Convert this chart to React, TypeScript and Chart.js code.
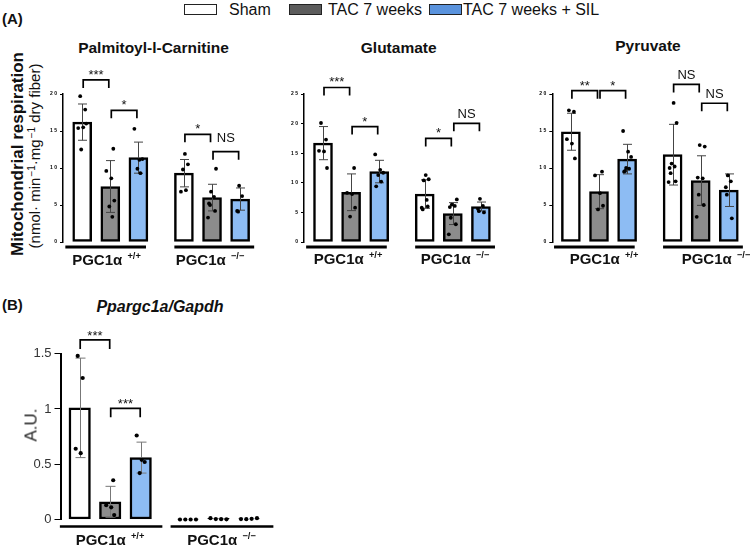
import React, { useEffect, useRef } from 'react';
import { Chart, registerables } from 'chart.js';
Chart.register(...registerables);

const FONT = '"Liberation Sans", Arial, Helvetica, sans-serif';
Chart.defaults.font.family = FONT;

// ---------- data ----------
const CONDITIONS = ['Sham', 'TAC 7 weeks', 'TAC 7 weeks + SIL'];
const GENOTYPES = ['+/+', '−/−'];

const PALM_MEANS = [16.2, 7.5, 11.4, 9.3, 6.0, 5.8];
const PALM_SD = [2.45, 3.5, 2.1, 1.85, 1.8, 1.5];
const PALM_DOTS = [
  [19.7, 17.9, 15.4, 15.5, 16.0, 12.5],
  [12.6, 9.6, 8.6, 5.6, 4.8, 3.4],
  [15.3, 11.1, 11.2, 9.9, 9.3],
  [11.9, 10.5, 9.8, 7.0, 6.8],
  [9.9, 6.8, 6.1, 5.2, 5.0, 4.2, 3.3],
  [7.6, 6.2, 4.2, 4.1],
];
const PALM_TICKS = ['0', '5', '1 0', '1 5', '2 0'];

const GLUT_MEANS = [16.7, 8.4, 11.9, 8.1, 4.8, 6.0];
const GLUT_SD = [2.8, 3.1, 1.9, 2.4, 1.85, 0.75];
const GLUT_DOTS = [
  [20.1, 17.3, 15.4, 15.3, 12.5],
  [12.5, 8.3, 8.1, 5.8, 4.3],
  [14.8, 12.2, 11.7, 11.3, 10.2, 9.4],
  [11.3, 10.6, 10.4, 7.1, 5.8, 5.5, 6.0],
  [7.2, 6.3, 6.1, 5.9, 4.1, 3.0, 1.3],
  [7.3, 6.1, 5.6, 5.2, 5.0],
];
const GLUT_TICKS = ['0', '5', '1 0', '1 5', '2 0', '2 5'];

const PYR_MEANS = [14.9, 6.8, 11.2, 11.8, 8.3, 7.0];
const PYR_SD = [2.5, 2.3, 2.0, 4.1, 3.35, 2.2];
const PYR_DOTS = [
  [17.8, 17.6, 13.9, 13.3, 11.3],
  [9.5, 9.0, 6.6, 4.9, 4.4],
  [15.0, 12.2, 11.5, 10.0, 9.9, 9.5, 9.6],
  [18.8, 16.1, 10.6, 10.2, 10.0, 9.3, 8.2, 8.1],
  [12.9, 13.1, 8.6, 8.7, 6.4, 5.0, 3.4],
  [9.0, 8.2, 7.4, 6.4, 3.2],
];
const PYR_TICKS = ['0', '5', '1 0', '1 5', '2 0'];

const PPAR_MEANS = [1.01, 0.16, 0.56, 0.003, 0.01, 0.006];
const PPAR_SD = [0.45, 0.14, 0.14, 0, 0, 0];
const PPAR_DOTS = [
  [1.48, 1.28, 0.64, 0.6],
  [0.355, 0.13, 0.11, 0.04],
  [0.76, 0.54, 0.52, 0.42],
  [0, 0, 0, 0],
  [0.012, 0.004, 0.003, 0.002],
  [0.004, 0.003, 0.006, 0.012],
];
const PPAR_TICKS = ['0', '0.5', '1', '1.5'];

type Bracket = { a: number; b: number; y: number; label: string; dy?: number };
const PALM_BRACKETS: Bracket[] = [
  { a: 0, b: 1, y: 21.9, label: '***' },
  { a: 1, b: 2, y: 17.8, label: '*' },
  { a: 3, b: 4, y: 14.55, label: '*' },
  { a: 4, b: 5, y: 12.2, label: 'NS', dy: -5 },
];
const GLUT_BRACKETS: Bracket[] = [
  { a: 0, b: 1, y: 26.1, label: '***' },
  { a: 1, b: 2, y: 19.5, label: '*' },
  { a: 3, b: 4, y: 17.5, label: '*' },
  { a: 4, b: 5, y: 20.05, label: 'NS' },
];
const PYR_BRACKETS: Bracket[] = [
  { a: 0, b: 1, y: 20.45, label: '**' },
  { a: 1, b: 2, y: 20.45, label: '*' },
  { a: 3, b: 4, y: 21.3, label: 'NS' },
  { a: 4, b: 5, y: 18.75, label: 'NS' },
];
const PPAR_BRACKETS: Bracket[] = [
  { a: 0, b: 1, y: 1.625, label: '***' },
  { a: 1, b: 2, y: 1.006, label: '***' },
];

// ---------- styles ----------
const BAR_COLORS = ['#ffffff', '#8c8c8c', '#8dbcf3'];
const LEGEND_COLORS = ['#ffffff', '#5c5c5c', '#5a93dd'];

type Panel = {
  left: number; top: number; width: number; height: number;
  axisX: number; firstCenter: number; pitch: number; groupGap: number;
  topY: number; zeroY: number; yMax: number; yStep: number;
  ticks: string[]; tickFont: any; tickColor: string; tickLen: number; tickPad: number; axisW: number; yW: number;
  means: number[]; sd: number[]; dots: number[][]; brackets: Bracket[];
  underlines: [number, number][]; underlineGap: number; underlineW: number;
  barThickness: number; errColor: string; capW: number; dotR: number;
  legLen: number; inA: number; inB: number; starFont: number; starGap: number; nsGap: number;
  spreadKO?: number;
};

const JITTER = [-2, 3, -4, 1, 4, -1, 2, -3];

function positions(p: Panel) {
  const out: number[] = [];
  GENOTYPES.forEach((_, g) => CONDITIONS.forEach((_, c) => out.push(g * p.groupGap + c)));
  return out;
}

function makeOverlay(p: Panel) {
  return {
    id: 'overlay',
    afterDatasetsDraw(chart: any) {
      const ctx = chart.ctx as CanvasRenderingContext2D;
      const xs = chart.scales.x;
      const ys = chart.scales.y;
      const X = (v: number) => xs.getPixelForValue(v);
      const Y = (v: number) => ys.getPixelForValue(v);
      const pos = positions(p);
      ctx.save();
      // error bars
      ctx.strokeStyle = p.errColor;
      ctx.lineWidth = 1;
      pos.forEach((ps, i) => {
        const sd = p.sd[i];
        if (!(sd > 0)) return;
        const cx = Math.round(X(ps)) + 0.5;
        const y1 = Y(p.means[i] + sd);
        const y0 = Y(Math.max(0, p.means[i] - sd));
        ctx.beginPath();
        ctx.moveTo(cx, y1); ctx.lineTo(cx, y0);
        ctx.moveTo(cx - p.capW / 2, y1); ctx.lineTo(cx + p.capW / 2, y1);
        ctx.moveTo(cx - p.capW / 2, y0); ctx.lineTo(cx + p.capW / 2, y0);
        ctx.stroke();
      });
      // dots
      ctx.fillStyle = '#000';
      pos.forEach((ps, i) => {
        const vals = p.dots[i];
        const cx = X(ps);
        vals.forEach((v, k) => {
          let off = JITTER[(k + i) % JITTER.length];
          if (p.spreadKO && i >= 3) off = -p.spreadKO + (2 * p.spreadKO * k) / Math.max(1, vals.length - 1);
          ctx.beginPath();
          ctx.arc(cx + off, Y(v), p.dotR, 0, Math.PI * 2);
          ctx.fill();
        });
      });
      // brackets
      ctx.strokeStyle = '#000';
      ctx.lineWidth = 1.7;
      ctx.fillStyle = '#111';
      ctx.textAlign = 'center';
      ctx.textBaseline = 'alphabetic';
      p.brackets.forEach((b) => {
        const x1 = X(pos[b.a]) + p.inA;
        const x2 = X(pos[b.b]) - p.inB;
        const y = Y(b.y);
        ctx.beginPath();
        ctx.moveTo(x1, y + p.legLen); ctx.lineTo(x1, y); ctx.lineTo(x2, y); ctx.lineTo(x2, y + p.legLen);
        ctx.stroke();
        const isNS = b.label === 'NS';
        ctx.font = `${isNS ? 13 : p.starFont}px ${FONT}`;
        const gap = (isNS ? p.nsGap : p.starGap) - (b.dy || 0);
        ctx.fillText(b.label, (x1 + x2) / 2, y - gap);
      });
      // group underlines
      ctx.lineWidth = p.underlineW;
      ctx.strokeStyle = '#000';
      p.underlines.forEach(([a, b]) => {
        const y = Y(0) + p.underlineGap;
        ctx.beginPath(); ctx.moveTo(X(a), y); ctx.lineTo(X(b), y); ctx.stroke();
      });
      ctx.restore();
    },
  };
}

function BarPanel({ p }: { p: Panel }) {
  const ref = useRef<HTMLCanvasElement>(null);
  useEffect(() => {
    if (!ref.current) return;
    const pos = positions(p);
    const padLeft = p.axisX - p.left - p.yW;
    const padRight = 2;
    const chartRight = p.left + p.width - padRight;
    const xMin = -(p.firstCenter - p.axisX) / p.pitch;
    const xMax = xMin + (chartRight - p.axisX) / p.pitch;
    const colors = pos.map((_, i) => BAR_COLORS[i % 3]);
    const chart = new Chart(ref.current, {
      type: 'bar',
      data: {
        datasets: [{
          data: pos.map((x, i) => ({ x, y: p.means[i] })),
          backgroundColor: colors,
          borderColor: '#000',
          borderWidth: 2.5,
          borderSkipped: false,
          barThickness: p.barThickness,
        } as any],
      },
      options: {
        responsive: false,
        animation: false,
        events: [],
        layout: { padding: { left: padLeft, right: padRight, top: p.topY - p.top, bottom: p.top + p.height - p.zeroY } },
        plugins: { legend: { display: false }, tooltip: { enabled: false }, title: { display: false } },
        scales: {
          x: { type: 'linear', min: xMin, max: xMax, display: false, offset: false },
          y: {
            min: 0, max: p.yMax,
            afterFit: (s: any) => { s.width = p.yW; },
            ticks: {
              stepSize: p.yStep,
              font: p.tickFont,
              color: p.tickColor,
              padding: p.tickPad,
              callback: (_v: any, i: number) => p.ticks[i],
            },
            grid: { display: true, drawOnChartArea: false, drawTicks: true, tickLength: p.tickLen, color: '#000', lineWidth: 1 },
            border: { display: true, color: '#000', width: p.axisW },
          },
        } as any,
      },
      plugins: [makeOverlay(p)],
    });
    return () => chart.destroy();
  }, [p]);
  return (
    <canvas
      ref={ref}
      width={p.width}
      height={p.height}
      style={{ position: 'absolute', left: p.left, top: p.top, width: p.width, height: p.height }}
    />
  );
}

const A_COMMON = {
  pitch: 28.1, groupGap: 3.62, topY: 94, zeroY: 242, yStep: 5,
  tickFont: { size: 5, weight: 'bold' }, tickColor: '#000', tickLen: 3, tickPad: 3, axisW: 1.5, yW: 25,
  underlines: [[-0.6, 2.27], [3.28, 6.12]] as [number, number][], underlineGap: 5, underlineW: 3,
  barThickness: 19, errColor: '#444', capW: 9, dotR: 1.9, legLen: 8, inA: 1, inB: 1.5,
  starFont: 13, starGap: 1, nsGap: 5, top: 55, height: 200,
};

const P1: Panel = { ...A_COMMON, left: 28, width: 235, axisX: 63, firstCenter: 82.2, yMax: 20, ticks: PALM_TICKS,
  means: PALM_MEANS, sd: PALM_SD, dots: PALM_DOTS, brackets: PALM_BRACKETS };
const P2: Panel = { ...A_COMMON, left: 269, width: 235, axisX: 304, firstCenter: 323, yMax: 25, ticks: GLUT_TICKS,
  means: GLUT_MEANS, sd: GLUT_SD, dots: GLUT_DOTS, brackets: GLUT_BRACKETS };
const P3: Panel = { ...A_COMMON, left: 517, width: 233, axisX: 552.3, firstCenter: 570.9, yMax: 20, ticks: PYR_TICKS,
  means: PYR_MEANS, sd: PYR_SD, dots: PYR_DOTS, brackets: PYR_BRACKETS };
const PB: Panel = {
  left: 20, top: 318, width: 265, height: 222, axisX: 60.5, firstCenter: 79.7, pitch: 30.5, groupGap: 3.55,
  topY: 353.7, zeroY: 519.5, yMax: 1.5, yStep: 0.5, ticks: PPAR_TICKS,
  tickFont: { size: 13 }, tickColor: '#333', tickLen: 6, tickPad: 3, axisW: 2, yW: 32,
  means: PPAR_MEANS, sd: PPAR_SD, dots: PPAR_DOTS, brackets: PPAR_BRACKETS,
  underlines: [[-0.65, 2.71], [2.98, 6.35]], underlineGap: 7, underlineW: 2.5,
  barThickness: 21.5, errColor: '#777', capW: 10, dotR: 2.1, legLen: 9, inA: 0.5, inB: 0.5,
  starFont: 13, starGap: 0, nsGap: 5, spreadKO: 8,
};

function T({ x, y, children, style, align = 'center', rotate = false }: any) {
  const tr = rotate
    ? 'translate(-50%,-50%) rotate(-90deg)'
    : align === 'center' ? 'translate(-50%,-50%)' : 'translate(0,-50%)';
  return (
    <div style={{ position: 'absolute', left: x, top: y, transform: tr, whiteSpace: 'nowrap', lineHeight: 1, fontFamily: FONT, color: '#111', ...style }}>
      {children}
    </div>
  );
}

const Sup = ({ children, size = 9, top = -5 }: any) => (
  <span style={{ fontSize: size, position: 'relative', top, marginLeft: 1 }}>{children}</span>
);

function GroupLabel({ x, y, sup, size = 15 }: any) {
  return (
    <T x={x} y={y} style={{ fontSize: size, fontWeight: 'bold' }}>
      PGC1α <Sup size={size * 0.62} top={-size * 0.38}>{sup}</Sup>
    </T>
  );
}

export default function App() {
  const legendX = [184, 288.5, 428.5];
  const legendTextX = [229, 328, 463];
  return (
    <div style={{ position: 'absolute', left: 0, top: 0, width: 750, height: 549, overflow: 'hidden', background: '#fff', fontFamily: FONT }}>
      {CONDITIONS.map((c, i) => (
        <React.Fragment key={c}>
          <div style={{ position: 'absolute', left: legendX[i], top: 4, width: 33, height: 11, boxSizing: 'border-box', border: '1.5px solid #222', background: LEGEND_COLORS[i] }} />
          <T x={legendTextX[i]} y={10} align="left" style={{ fontSize: 16 }}>{c}</T>
        </React.Fragment>
      ))}
      <T x={2} y={18} align="left" style={{ fontSize: 15, fontWeight: 'bold' }}>(A)</T>
      <T x={17} y={154} rotate style={{ fontSize: 17, fontWeight: 'bold' }}>Mitochondrial respiration</T>
      <T x={34} y={156} rotate style={{ fontSize: 15 }}>
        (nmol· min<Sup size={10}>−1</Sup>·mg<Sup size={10}>−1</Sup> dry fiber)
      </T>
      <T x={153.5} y={48} style={{ fontSize: 15.5, fontWeight: 'bold' }}>Palmitoyl-l-Carnitine</T>
      <T x={398.7} y={48} style={{ fontSize: 15.5, fontWeight: 'bold' }}>Glutamate</T>
      <T x={648} y={45.5} style={{ fontSize: 15.5, fontWeight: 'bold' }}>Pyruvate</T>

      <BarPanel p={P1} />
      <BarPanel p={P2} />
      <BarPanel p={P3} />
      <BarPanel p={PB} />

      <GroupLabel x={106.5} y={260} sup={GENOTYPES[0]} />
      <GroupLabel x={210} y={260} sup={GENOTYPES[1]} />
      <GroupLabel x={348} y={259} sup={GENOTYPES[0]} />
      <GroupLabel x={455} y={259} sup={GENOTYPES[1]} />
      <GroupLabel x={604} y={259} sup={GENOTYPES[0]} />
      <GroupLabel x={716} y={259} sup={GENOTYPES[1]} />

      <T x={2} y={304} align="left" style={{ fontSize: 15, fontWeight: 'bold' }}>(B)</T>
      <T x={160} y={307} style={{ fontSize: 16, fontWeight: 'bold', fontStyle: 'italic' }}>Ppargc1a/Gapdh</T>
      <T x={31} y={425} rotate style={{ fontSize: 17, color: '#222' }}>A.U.</T>
      <GroupLabel x={110} y={540} sup={GENOTYPES[0]} size={15} />
      <GroupLabel x={221.5} y={540} sup={GENOTYPES[1]} size={15} />
    </div>
  );
}
